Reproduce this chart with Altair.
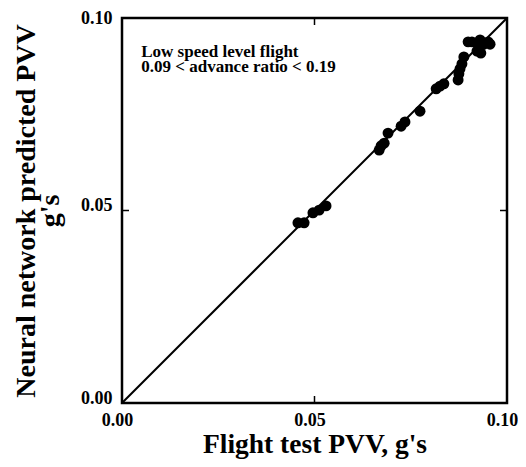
import altair as alt
import pandas as pd

# Flight test PVV (x) vs neural network predicted PVV (y), g's
flight_test = [0.0457, 0.0473, 0.0496, 0.0512, 0.0530,
               0.0668, 0.0673, 0.0681, 0.0691, 0.0725, 0.0735, 0.0774,
               0.0816, 0.0826, 0.0836, 0.0873, 0.0875, 0.0878, 0.0883, 0.0888,
               0.0899, 0.0909, 0.0925, 0.0922, 0.0932, 0.0940, 0.0951, 0.0956, 0.0930]
predicted = [0.0468, 0.0468, 0.0494, 0.0501, 0.0512,
             0.0657, 0.0668, 0.0675, 0.0701, 0.0719, 0.0730, 0.0758,
             0.0816, 0.0823, 0.0829, 0.0839, 0.0855, 0.0868, 0.0881, 0.0899,
             0.0938, 0.0938, 0.0932, 0.0914, 0.0909, 0.0932, 0.0938, 0.0932, 0.0943]

tick_values = [0.0, 0.05, 0.10]
inner_ticks = [0.05]
diag = [0.0, 0.10]
note_lines = ["Low speed level flight", "0.09 < advance ratio < 0.19"]

FONT = "Liberation Serif"
W = H = 385

df = pd.DataFrame({"x": flight_test, "y": predicted})
diag_df = pd.DataFrame({"x": diag, "y": diag})
tick_df = pd.DataFrame({"v": inner_ticks})
note_df = pd.DataFrame({"x": [0.005], "y": [0.0912], "t": [note_lines]})

xscale = alt.Scale(domain=[0, 0.1], nice=False, zero=False)
yscale = alt.Scale(domain=[0, 0.1], nice=False, zero=False)

xaxis = alt.Axis(values=tick_values, format=".2f", tickSize=0, domain=False, grid=False,
                 labelFont=FONT, labelFontWeight="bold", labelFontSize=18, labelColor="black",
                 labelPadding=8, labelFlush=False, labelOffset=-5,
                 title="Flight test PVV, g's", titleFont=FONT, titleFontWeight="bold",
                 titleFontSize=27.5, titleColor="black", titlePadding=1)
yaxis = alt.Axis(values=tick_values, format=".2f", tickSize=0, domain=False, grid=False,
                 labelFont=FONT, labelFontWeight="bold", labelFontSize=18, labelColor="black",
                 labelPadding=10, labelFlush=False,
                 labelBaseline=alt.ExprRef("datum.value >= 0.1 ? 'middle' : 'alphabetic'"),
                 title=["Neural network predicted PVV", "g's"], titleFont=FONT,
                 titleFontWeight="bold", titleFontSize=28, titleColor="black",
                 titlePadding=16, titleLineHeight=24)

points = alt.Chart(df).mark_circle(size=120, color="black", opacity=1).encode(
    x=alt.X("x:Q", scale=xscale, axis=xaxis),
    y=alt.Y("y:Q", scale=yscale, axis=yaxis),
)

line = alt.Chart(diag_df).mark_line(color="black", strokeWidth=2, clip=True).encode(
    x=alt.X("x:Q", scale=xscale), y=alt.Y("y:Q", scale=yscale)
)

tick_len = 7
bottom_ticks = alt.Chart(tick_df).mark_rule(color="black", strokeWidth=1.5).encode(
    x=alt.X("v:Q", scale=xscale), y=alt.value(H), y2=alt.value(H - tick_len))
top_ticks = alt.Chart(tick_df).mark_rule(color="black", strokeWidth=1.5).encode(
    x=alt.X("v:Q", scale=xscale), y=alt.value(0), y2=alt.value(tick_len))
left_ticks = alt.Chart(tick_df).mark_rule(color="black", strokeWidth=1.5).encode(
    y=alt.Y("v:Q", scale=yscale), x=alt.value(0), x2=alt.value(tick_len))
right_ticks = alt.Chart(tick_df).mark_rule(color="black", strokeWidth=1.5).encode(
    y=alt.Y("v:Q", scale=yscale), x=alt.value(W), x2=alt.value(W - tick_len))

note = alt.Chart(note_df).mark_text(
    align="left", baseline="middle", font=FONT, fontWeight="bold", fontSize=17,
    lineHeight=15, color="black"
).encode(x=alt.X("x:Q", scale=xscale), y=alt.Y("y:Q", scale=yscale), text="t")

chart = alt.layer(line, points, bottom_ticks, top_ticks, left_ticks, right_ticks, note).properties(
    width=W, height=H,
    autosize=alt.AutoSizeParams(type="none"),
    padding={"left": 114, "top": 10, "right": 11, "bottom": 56},
).configure_view(stroke="black", strokeWidth=2.5)

chart.save("out.html", embed_options={"renderer": "svg", "actions": False})
